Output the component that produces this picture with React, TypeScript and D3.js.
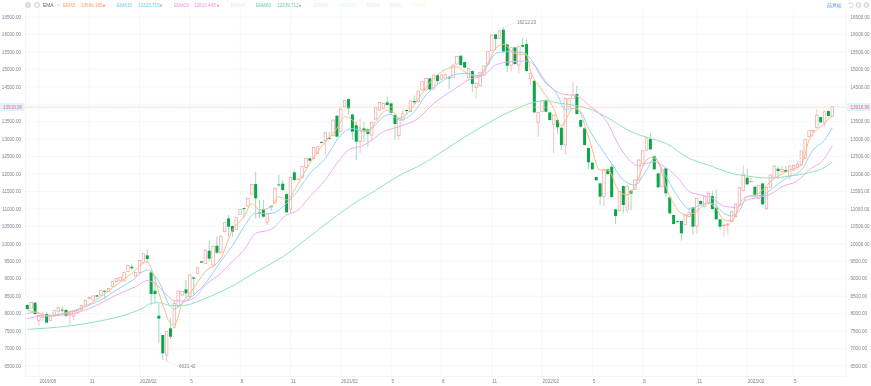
import React from "react";
import * as d3 from "d3";

const opens = [8248,8152,8315,7799,7895,7990,7799,7932,8057,8114,8105,7961,7932,8028,8105,8248,8439,8391,8525,8534,8658,8630,8773,8916,8945,8935,9203,9346,9079,9174,9461,9671,9184,8658,7942,7388,6815,7579,7608,8200,8534,8697,8487,9040,9155,9499,9441,9804,9394,9947,9756,10348,10730,10511,10415,10845,11025,11084,11427,11714,10900,11000,10606,11080,11179,11704,11724,11427,10998,12048,11840,11895,12191,12449,12449,12593,12920,12955,13041,13099,13672,13213,13929,14149,13710,13404,12927,13309,13280,13118,13576,13834,13882,14054,14025,13691,13099,13548,13835,13787,14092,14073,14407,14407,14742,14436,14837,14722,14742,14770,14770,15152,15391,15210,14761,14952,14474,14531,14837,15152,15534,16002,15888,16136,15716,15124,15630,15124,15697,15725,14742,14675,13471,13786,14121,13767,13424,13548,13328,12832,13930,14168,14293,13548,13309,12746,12326,11915,11733,11352,12135,12211,10989,10950,11657,10970,11523,11562,11829,12307,12688,13004,12517,12020,11638,12163,11332,10826,10650,10654,10558,10778,11045,10511,11227,11065,11179,11370,11036,10702,10520,10539,10635,10778,11112,11523,11895,11770,11637,11303,11733,11017,11618,11905,12153,12067,12115,11943,12115,12191,12258,12449,13070,13230,13337,13633,13481,13805,13643];
const closes = [8133,8315,7990,7952,7905,7742,7932,8085,8171,8085,7932,8009,8057,8085,8238,8381,8458,8506,8487,8658,8639,8725,8916,9012,9031,9174,9384,9298,9174,9518,9728,9566,8563,8563,7856,6863,7484,7340,8296,8649,8630,8582,9107,9002,9317,9461,9823,9575,9930,9747,10205,10606,10491,10348,10749,10988,11005,11303,11704,11303,10880,10778,10854,11055,11590,11676,11542,10902,11905,11829,11860,12211,12449,12382,12764,12783,12895,13194,13003,13547,13070,13863,14111,13882,13213,12927,13261,13242,13146,13481,13901,14054,14025,13977,13757,13433,13595,13739,13815,14092,14054,14378,14646,14742,14426,14837,14665,14837,14856,14742,15123,15372,15123,15047,15028,14579,14598,14913,15095,15506,15983,15868,16098,15505,15104,15620,15152,15649,15649,14952,14885,13767,13767,14102,13786,13548,13691,13338,12832,14168,14168,14264,13720,13357,12832,12335,12135,11820,11352,12135,12001,11342,10798,11495,11113,11657,11437,11829,12402,12669,13051,12708,12135,11619,12116,11447,10874,10568,10630,10301,10826,10893,10491,11303,11141,11351,11447,10998,10702,10492,10540,10568,10921,11141,11618,12000,11704,11790,11380,11666,11131,11618,11972,12230,12086,12134,12058,12230,12249,12287,12659,12994,13242,13245,13672,13481,13786,13662,13929];
const highs = [8276,8330,8330,7980,8060,8060,7960,8110,8220,8220,8125,8030,8105,8105,8260,8400,8490,8520,8540,8670,8670,8740,8930,9030,9050,9190,9400,9440,9190,9530,9740,9843,9250,9060,8296,7390,7500,7866,8390,8660,8650,8964,9120,9060,9330,9510,9835,10090,9960,10205,10260,10620,10826,10530,10770,11000,11035,11320,11720,12067,11256,11256,10870,11112,11610,11972,11830,11447,11925,12115,11880,12230,12460,12470,12780,12800,12935,13210,13213,13560,13690,13880,14125,14165,13730,13510,13595,13500,13300,13500,13920,14070,14045,14216,14045,13710,13615,13850,13850,14110,14250,14395,14665,14760,14760,14855,14860,14870,14880,14790,15140,15390,15410,15230,15045,14975,14620,14930,15115,15525,16000,16020,16115,16212,15735,15640,15650,15665,15888,15868,14905,14695,13785,14120,14140,13785,13710,13570,13350,14190,14185,14665,14531,13570,13330,12765,12345,11935,11750,12155,12155,12280,11010,11515,11675,11675,11545,11850,12420,12690,13070,13185,12535,12040,12135,12180,11350,10845,10670,10675,10845,11040,11065,11325,11245,11370,11510,11510,11560,10720,10560,10590,10940,11160,11635,12258,12143,11890,11660,11685,11750,11635,11990,12250,12230,12250,12230,12250,12265,12380,12680,13010,13260,13265,13860,13650,13805,13825,13945];
const lows = [8105,8140,7960,7646,7800,7720,7780,7910,8010,8030,7895,7675,7818,8000,8090,8230,8410,8380,8470,8520,8410,8620,8760,8900,8930,8920,9190,9250,9060,9160,9440,9442,8248,8296,7150,6672,6631,7264,7580,8180,8500,8439,8470,8534,9140,9450,9430,9500,9300,9700,9700,10330,10205,10200,10400,10830,10730,11070,11410,10730,10730,10750,10539,10950,11160,11650,11520,10880,10854,11800,11820,11870,12170,12360,12430,12570,12880,12545,12985,13080,13050,13190,13910,13691,12975,12401,12592,12920,12790,12927,13560,13815,13860,13950,13730,12994,12975,13530,13700,13770,14000,14050,14390,14390,14400,14420,14550,14700,14725,14436,14750,15135,15100,15025,14740,14350,14168,14510,14820,15135,15515,15553,15870,15485,14930,14932,15135,14885,15630,14930,14550,13745,13070,13770,13765,13530,12593,13150,12690,12545,13910,14150,13700,13335,12810,12150,12115,11800,11113,11084,11980,11320,10568,10930,10874,10900,10970,11540,11800,12285,12665,12685,12115,11600,11620,11360,10850,10550,10615,10091,10540,10760,10253,10300,11120,11045,11160,10980,10680,10400,10205,10253,10615,10760,11090,11505,11685,11770,11330,11285,11110,10970,11600,11885,11850,12045,12035,11820,12095,12170,12240,12430,13050,13070,13315,13460,13360,13640,13620];

const ema5Idx = [0,3,6,10,14,19,23,27,31,32,35,37,38,40,42,46,50,53,56,58,60,63,65,67,70,73,76,80,82,84,86,88,90,93,95,96,99,102,105,111,113,116,119,121,123,126,129,130,133,136,138,141,142,145,148,150,153,155,157,160,162,166,170,172,176,178,180,182,185,189,192,196,200,202,206,208];
const ema5Val = [8105,8009,7932,8009,8152,8486,8820,9155,9489,9298,8248,7723,7675,8296,8582,9203,9584,10396,10778,11160,10969,11064,11351,11255,11733,12306,12784,13309,13643,13547,13309,13213,13500,13834,13738,13595,13834,14312,14742,15076,14933,14790,15171,15601,15716,15458,15410,14980,14407,13882,13380,13882,13882,13071,12115,12115,11495,11399,11638,12402,12498,11351,10826,10874,11160,11017,10682,10663,11303,11447,11780,12067,12258,12975,13452,13696];
const ema10Idx = [0,2,5,10,15,19,23,27,31,32,34,37,38,40,43,46,50,53,56,59,63,67,70,73,77,80,82,84,87,89,92,94,96,100,103,107,110,113,117,119,121,124,128,130,133,137,139,141,143,145,148,151,154,157,160,162,165,169,171,174,177,180,182,184,186,190,192,196,200,203,206,208];
const ema10Val = [7990,8047,7932,8028,8200,8391,8677,8945,9250,9203,8916,8200,8133,8296,8534,8868,9500,9950,10491,10873,10873,11160,11542,12019,12449,12974,13213,13309,13213,13309,13643,13710,13547,13786,14264,14646,14837,14885,14818,15123,15458,15505,15486,15314,14742,14264,13850,13882,13786,13309,12780,12300,11829,11686,12116,12450,11924,11208,11000,11112,11160,10873,10797,10950,11351,11399,11542,11876,12115,12688,12974,13323];
const ema20Idx = [0,5,10,15,19,23,28,31,33,36,38,40,43,46,50,53,56,59,63,67,70,73,77,80,83,87,89,92,96,101,105,110,114,118,121,125,129,131,134,138,142,145,150,153,156,158,162,164,168,171,174,177,180,183,186,189,192,195,199,202,206,208];
const ema20Val = [7856,7952,7961,8105,8296,8534,8773,8945,8868,8534,8372,8362,8439,8821,9155,9500,9823,10300,10415,10826,10969,11351,11829,12306,12688,12831,12974,13213,13357,13595,14025,14407,14694,14837,15124,15219,15238,15124,14646,14300,14236,13978,13452,12784,12354,12240,12354,12259,11900,11500,11399,11303,11084,11045,11256,11332,11420,11637,11809,12115,12449,12810];
const ema60Idx = [0,10,15,20,25,30,32,34,37,40,45,50,55,58,62,68,72,75,78,80,83,86,90,93,96,102,108,114,118,122,126,130,134,137,141,146,151,156,161,165,171,176,182,186,192,197,202,206,208];
const ema60Val = [7550,7637,7713,7818,7952,8171,8296,8315,8235,8229,8391,8630,8916,9130,9370,9780,10130,10390,10640,10810,11050,11270,11530,11750,11950,12280,12700,13130,13390,13640,13850,14030,14100,14040,13977,13834,13540,13214,13023,12880,12449,12258,12020,11943,11886,11943,12040,12191,12339];

const priceTicks = d3.range(6500, 16501, 500);
const tickIdx = [3,16,29,42,55,68,81,94,107,120,133,146,159,173,186,198];
const tickLabels = ["2019/08","11","2020/02","5","8","11","2021/02","5","8","11","2022/02","5","8","11","2023/02","5"];
const lastPrice = 13918.96;
const hiLabel = "16212.23";
const loLabel = "6631.42";
const legend = [
  { name: "EMA5", x: 63, value: "13696.185", vx: 81, tx: 104, c: "#f7a468" },
  { name: "EMA10", x: 117, value: "13323.715", vx: 138, tx: 161, c: "#6cc6f0" },
  { name: "EMA20", x: 174, value: "12810.448", vx: 194, tx: 218, c: "#ec8fe6" },
  { name: "EMA30", x: 231, c: "#dfe3fb" },
  { name: "EMA60", x: 256, value: "12339.712", vx: 277, tx: 300, c: "#62cf97" },
  { name: "EMA90", x: 313, c: "#fbdde2" },
  { name: "EMA200", x: 339, c: "#d8f8f8" },
  { name: "EMA1", x: 367, c: "#e6e6ea" },
  { name: "EMA1", x: 390, c: "#eddffa" },
  { name: "EMA1", x: 413, c: "#fbf3d0" },
];

const FONT = "'Liberation Sans', Arial, sans-serif";
const UP = "#f29a9a";
const DOWN = "#08a548";
const GRID = "#f3f5f9";
const AXIS_TXT = "#7d838e";

export default function App() {
  const x = d3.scaleLinear().domain([0, 208]).range([27.3, 832.3]);
  const y = d3.scaleLinear().domain([6500, 16500]).range([366, 17]);
  const mk = (idx: number[], val: number[]) =>
    d3.line<number>().x((d) => x(d)).y((_, i) => y(val[i])).curve(d3.curveMonotoneX)(idx) as string;
  const emas = [
    { idx: ema60Idx, val: ema60Val, c: "#8fe3b9" },
    { idx: ema20Idx, val: ema20Val, c: "#f2aaee" },
    { idx: ema10Idx, val: ema10Val, c: "#8dd4f6" },
    { idx: ema5Idx, val: ema5Val, c: "#fab98a" },
  ];
  const hiI = highs.indexOf(d3.max(highs) as number);
  const loI = lows.indexOf(d3.min(lows) as number);
  const left = 25.5, right = 846, top = 9.5, bottom = 376.5;
  return (
    <svg width={871} height={386} style={{ position: "fixed", left: 0, top: 0, background: "#fff" }} fontFamily={FONT}>
      <defs>
        <filter id="soft" x="-2%" y="-2%" width="104%" height="104%"><feGaussianBlur stdDeviation="0.3" /></filter>
      </defs>
      <g filter="url(#soft)">
        {priceTicks.map((p) => (
          <g key={p}>
            <line x1={left} x2={right} y1={y(p)} y2={y(p)} stroke={GRID} strokeWidth={0.8} />
            {Math.abs(p - lastPrice) > 200 && (
              <>
                <text x={21} y={y(p) + 1.7} fontSize={4.6} textAnchor="end" fill={AXIS_TXT}>{p.toFixed(2)}</text>
                <text x={850.5} y={y(p) + 1.7} fontSize={4.6} fill={AXIS_TXT}>{p.toFixed(2)}</text>
              </>
            )}
          </g>
        ))}
        {tickIdx.map((t, i) => (
          <g key={t}>
            <line x1={x(t)} x2={x(t)} y1={top} y2={bottom} stroke={GRID} strokeWidth={0.8} />
            <text x={x(t) + 0.5} y={383} fontSize={4.6} fill={AXIS_TXT}>{tickLabels[i]}</text>
          </g>
        ))}
        <line x1={left} x2={left} y1={top} y2={bottom} stroke="#eceff4" strokeWidth={0.7} />
        <line x1={right} x2={right} y1={top} y2={bottom} stroke="#eceff4" strokeWidth={0.7} />
        <line x1={left} x2={right} y1={bottom} y2={bottom} stroke="#eceff4" strokeWidth={0.7} />

        {opens.map((o, i) => {
          const c = closes[i];
          const up = c >= o;
          const col = up ? UP : DOWN;
          const t = y(Math.max(o, c));
          const b = y(Math.min(o, c));
          const cx = x(i);
          return (
            <g key={i}>
              <line x1={cx} x2={cx} y1={y(highs[i])} y2={t} stroke={up ? "#f7b4b4" : "#86d3a5"} strokeWidth={0.8} />
              <line x1={cx} x2={cx} y1={b} y2={y(lows[i])} stroke={up ? "#f7b4b4" : "#86d3a5"} strokeWidth={0.8} />
              {up ? (
                <rect x={cx - 1.25} y={t} width={2.5} height={Math.max(b - t, 0.6)} fill="#fff" stroke={col} strokeWidth={0.65} />
              ) : (
                <rect x={cx - 1.5} y={t} width={3} height={Math.max(b - t, 1)} fill={col} />
              )}
            </g>
          );
        })}

        {emas.map((e) => (
          <path key={e.c} d={mk(e.idx, e.val)} fill="none" stroke={e.c} strokeWidth={1} />
        ))}

        <line x1={left} x2={right} y1={y(lastPrice)} y2={y(lastPrice)} stroke="#fbc09a" strokeWidth={0.8} strokeDasharray="1.2 0.6" />
        <rect x={0} y={y(lastPrice) - 4} width={24.5} height={8} rx={1} fill="#e6effc" />
        <rect x={847} y={y(lastPrice) - 4} width={24} height={8} rx={1} fill="#e6effc" />
        <text x={3} y={y(lastPrice) + 1.7} fontSize={4.6} fill="#e0787c">{lastPrice.toFixed(2)}</text>
        <text x={850.5} y={y(lastPrice) + 1.7} fontSize={4.6} fill="#e0787c">{lastPrice.toFixed(2)}</text>

        <line x1={x(hiI)} x2={516} y1={y(highs[hiI])} y2={22.5} stroke="#dfe2e8" strokeWidth={0.5} />
        <text x={517} y={24} fontSize={4.6} fill={AXIS_TXT}>{hiLabel}</text>
        <line x1={x(loI)} x2={178} y1={y(lows[loI])} y2={366} stroke="#dfe2e8" strokeWidth={0.5} />
        <text x={179} y={368} fontSize={4.6} fill={AXIS_TXT}>{loLabel}</text>

        <circle cx={28} cy={5} r={2.6} fill="#dfe3ea" stroke="#b9bfca" strokeWidth={0.5} />
        <circle cx={37} cy={5} r={2.6} fill="#eef0f4" stroke="#b9bfca" strokeWidth={0.5} />
        <text x={43} y={6.6} fontSize={4.8} fill="#5c6370">EMA</text>
        <path d="M57 4.2 L58.5 5.8 L60 4.2" fill="none" stroke="#9aa1ad" strokeWidth={0.5} />
        {legend.map((l) => (
          <g key={l.name + l.x}>
            <text x={l.x} y={6.6} fontSize={4.6} fill={l.c}>{l.name}</text>
            {l.value && <text x={l.vx} y={6.6} fontSize={4.6} fill={l.c}>{l.value}</text>}
            {l.value && <path d={`M${l.tx - 1.1} 6.3 L${l.tx} 4.6 L${l.tx + 1.1} 6.3 Z`} fill="#ee4b4b" />}
          </g>
        ))}
        <text x={827} y={6.6} fontSize={4.9} fill="#5b92e8" fontFamily="'Noto Sans CJK SC'">前复权</text>
        <path d="M848.5 3 H851 A2.3 2.3 0 1 1 849.5 7.2" fill="none" stroke="#9aa1ad" strokeWidth={0.5} />
        <circle cx={858.5} cy={5} r={2.4} fill="none" stroke="#9aa1ad" strokeWidth={0.5} />
        <line x1={857.2} x2={859.8} y1={5} y2={5} stroke="#9aa1ad" strokeWidth={0.5} />
        <circle cx={866.5} cy={5} r={2.4} fill="none" stroke="#9aa1ad" strokeWidth={0.5} />
        <path d="M865.4 5.6 L866.5 4.3 L867.6 5.6" fill="none" stroke="#9aa1ad" strokeWidth={0.5} />
      </g>
    </svg>
  );
}
